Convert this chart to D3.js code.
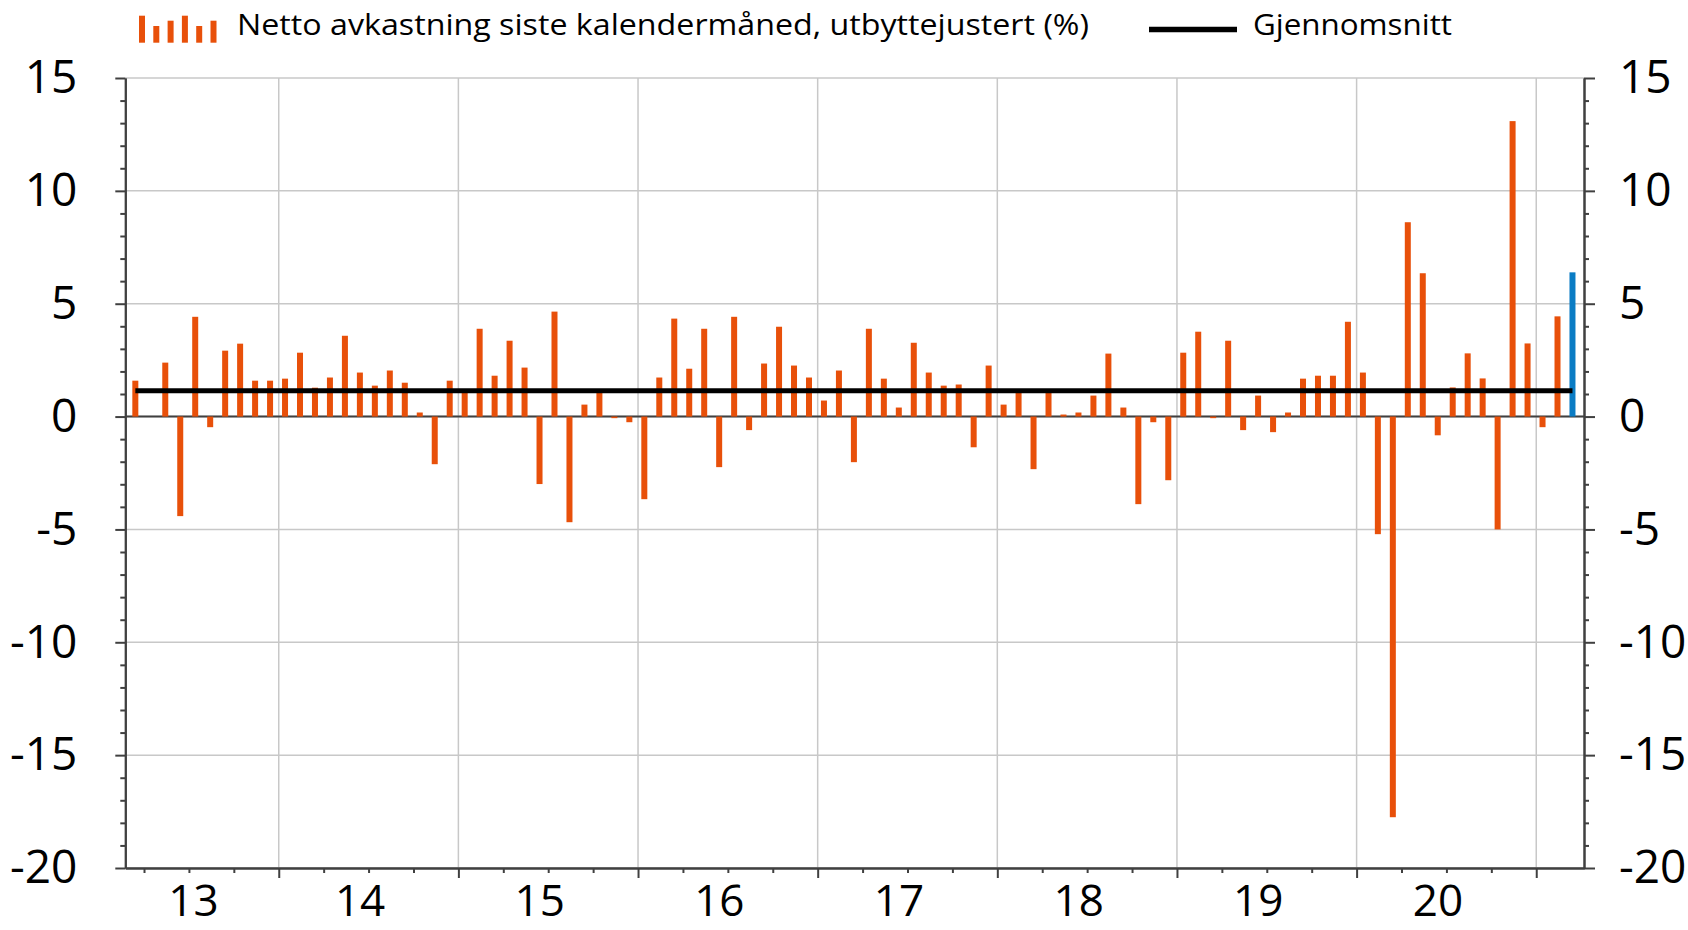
<!DOCTYPE html>
<html>
<head>
<meta charset="utf-8">
<script src="https://cdn.jsdelivr.net/npm/d3@7/dist/d3.min.js"></script>
<style>
  body { margin: 0; background: #fff; }
  svg { display: block; font-family: "Open Sans", sans-serif; }
</style>
</head>
<body>
<svg id="chart" width="1688" height="930"></svg>
<script>
// monthly net return (%) per calendar year, first value = March 2013
const r2013 = [1.59, 0, 2.39, -4.41, 4.42, -0.47, 2.92, 3.23, 1.59, 1.59];
const r2014 = [1.68, 2.83, 1.28, 1.73, 3.58, 1.95, 1.37, 2.04, 1.50, 0.18, -2.11, 1.59];
const r2015 = [1.15, 3.89, 1.81, 3.36, 2.17, -2.99, 4.65, -4.68, 0.53, 1.10, -0.07, -0.25];
const r2016 = [-3.66, 1.73, 4.34, 2.12, 3.89, -2.24, 4.42, -0.60, 2.35, 3.98, 2.26, 1.73];
const r2017 = [0.71, 2.04, -2.02, 3.89, 1.68, 0.40, 3.27, 1.95, 1.37, 1.42, -1.36, 2.26];
const r2018 = [0.53, 1.10, -2.33, 1.10, 0.09, 0.18, 0.93, 2.79, 0.40, -3.88, -0.25, -2.82];
const r2019 = [2.83, 3.76, -0.07, 3.36, -0.60, 0.93, -0.69, 0.18, 1.68, 1.81, 1.81, 4.20];
const r2020 = [1.95, -5.21, -17.75, 8.61, 6.35, -0.83, 1.29, 2.80, 1.69, -5.00, 13.09, 3.24];
const r2021 = [-0.47, 4.44, 6.39];
const average = 1.14;

const firstMonth = 2;   // months counted from Jan 2013 -> March 2013
const yearLabels = ["13", "14", "15", "16", "17", "18", "19", "20"];
const yMajorTicks = [-20, -15, -10, -5, 0, 5, 10, 15];
const legendLabels = ["Netto avkastning siste kalendermåned, utbyttejustert (%)", "Gjennomsnitt"];

const returns = [].concat(r2013, r2014, r2015, r2016, r2017, r2018, r2019, r2020, r2021);
const data = returns.map((v, i) => ({ m: firstMonth + i, v: v }));

const ORANGE = "#e8500a", BLUE = "#0a7cc4", AXIS = "#404040", GRID = "#c8c8c8";

const svg = d3.select("#chart");
const plotL = 125.3, plotR = 1584, plotT = 78, plotB = 868;

const x = d3.scaleLinear().domain([1.75, 99.19]).range([plotL, plotR]);
const y = d3.scaleLinear().domain([-20, 15]).range([plotB, plotT]);
const barOffset = 0.42, barW = 6;

// grid
const grid = svg.append("g");
grid.selectAll(".hg").data(yMajorTicks).join("line")
    .attr("x1", plotL).attr("x2", plotR)
    .attr("y1", d => y(d)).attr("y2", d => y(d))
    .attr("stroke", GRID).attr("stroke-width", 1.5);
grid.selectAll(".vg").data(d3.range(1, yearLabels.length + 1)).join("line")
    .attr("x1", d => x(d * 12)).attr("x2", d => x(d * 12))
    .attr("y1", plotT).attr("y2", plotB)
    .attr("stroke", GRID).attr("stroke-width", 1.5);

// zero line
svg.append("line")
    .attr("x1", plotL).attr("x2", plotR).attr("y1", y(0)).attr("y2", y(0))
    .attr("stroke", AXIS).attr("stroke-width", 2);

// bars
svg.append("g").selectAll("rect").data(data).join("rect")
    .attr("x", d => x(d.m + barOffset) - barW / 2)
    .attr("width", barW)
    .attr("y", d => y(Math.max(0, d.v)))
    .attr("height", d => Math.abs(y(d.v) - y(0)))
    .attr("fill", (d, i) => i === data.length - 1 ? BLUE : ORANGE);

// average line
svg.append("line")
    .attr("x1", x(data[0].m + barOffset)).attr("x2", x(data[data.length - 1].m + barOffset))
    .attr("y1", y(average)).attr("y2", y(average))
    .attr("stroke", "#000").attr("stroke-width", 5);

// axes
function styleAxis(g) {
    g.selectAll("path.domain").attr("stroke", AXIS).attr("stroke-width", 2);
    g.selectAll(".tick line").attr("stroke", AXIS).attr("stroke-width", 2);
    g.selectAll(".tick text").attr("fill", "#000")
        .style("font-family", '"Open Sans", sans-serif').style("font-size", "46px");
    g.attr("font-family", null).attr("font-size", null);
}
const minorY = d3.range(-20, 16, 1).filter(d => d % 5 !== 0);

svg.append("g").attr("transform", `translate(${plotL},0)`)
    .call(d3.axisLeft(y).tickValues(minorY).tickSize(5).tickSizeOuter(0).tickFormat(""))
    .call(styleAxis);
svg.append("g").attr("transform", `translate(${plotL},0)`)
    .call(d3.axisLeft(y).tickValues(yMajorTicks).tickSize(10).tickSizeOuter(0)
        .tickPadding(38).tickFormat(d => String(d)))
    .call(styleAxis);

svg.append("g").attr("transform", `translate(${plotR},0)`)
    .call(d3.axisRight(y).tickValues(minorY).tickSize(5).tickSizeOuter(0).tickFormat(""))
    .call(styleAxis);
svg.append("g").attr("transform", `translate(${plotR},0)`)
    .call(d3.axisRight(y).tickValues(yMajorTicks).tickSize(11).tickSizeOuter(0)
        .tickPadding(24).tickFormat(d => String(d)))
    .call(styleAxis);

const quarterTicks = d3.range(3, 99, 3).filter(d => d % 12 !== 0);
const yearTicks = d3.range(1, yearLabels.length + 1).map(d => d * 12);
svg.append("g").attr("transform", `translate(0,${plotB})`)
    .call(d3.axisBottom(x).tickValues(quarterTicks).tickSize(5).tickSizeOuter(0).tickFormat(""))
    .call(styleAxis);
svg.append("g").attr("transform", `translate(0,${plotB})`)
    .call(d3.axisBottom(x).tickValues(yearTicks).tickSize(10).tickSizeOuter(0).tickFormat(""))
    .call(styleAxis);

// year labels sit near the middle of the visible part of each year
svg.append("g").selectAll("text").data(yearLabels).join("text")
    .attr("x", (d, i) => (Math.max(x(i * 12), plotL) + x(i * 12 + 12)) / 2 - 8.5)
    .attr("y", 916)
    .attr("text-anchor", "middle")
    .style("font-size", "44px")
    .text(d => d);

// legend
const legend = svg.append("g");
const iconTops = [15.7, 26, 20.7, 15.7, 26, 20.7];
legend.selectAll("rect").data(iconTops).join("rect")
    .attr("x", (d, i) => 139 + i * 14.3).attr("width", 6)
    .attr("y", d => d).attr("height", d => 42.7 - d)
    .attr("fill", ORANGE);
legend.append("text")
    .attr("x", 237).attr("y", 35)
    .attr("textLength", 852).attr("lengthAdjust", "spacingAndGlyphs")
    .style("font-size", "30px")
    .text(legendLabels[0]);
legend.append("line")
    .attr("x1", 1149).attr("x2", 1237).attr("y1", 29.5).attr("y2", 29.5)
    .attr("stroke", "#000").attr("stroke-width", 5.5);
legend.append("text")
    .attr("x", 1253).attr("y", 35)
    .attr("textLength", 199).attr("lengthAdjust", "spacingAndGlyphs")
    .style("font-size", "30px")
    .text(legendLabels[1]);
</script>
</body>
</html>
